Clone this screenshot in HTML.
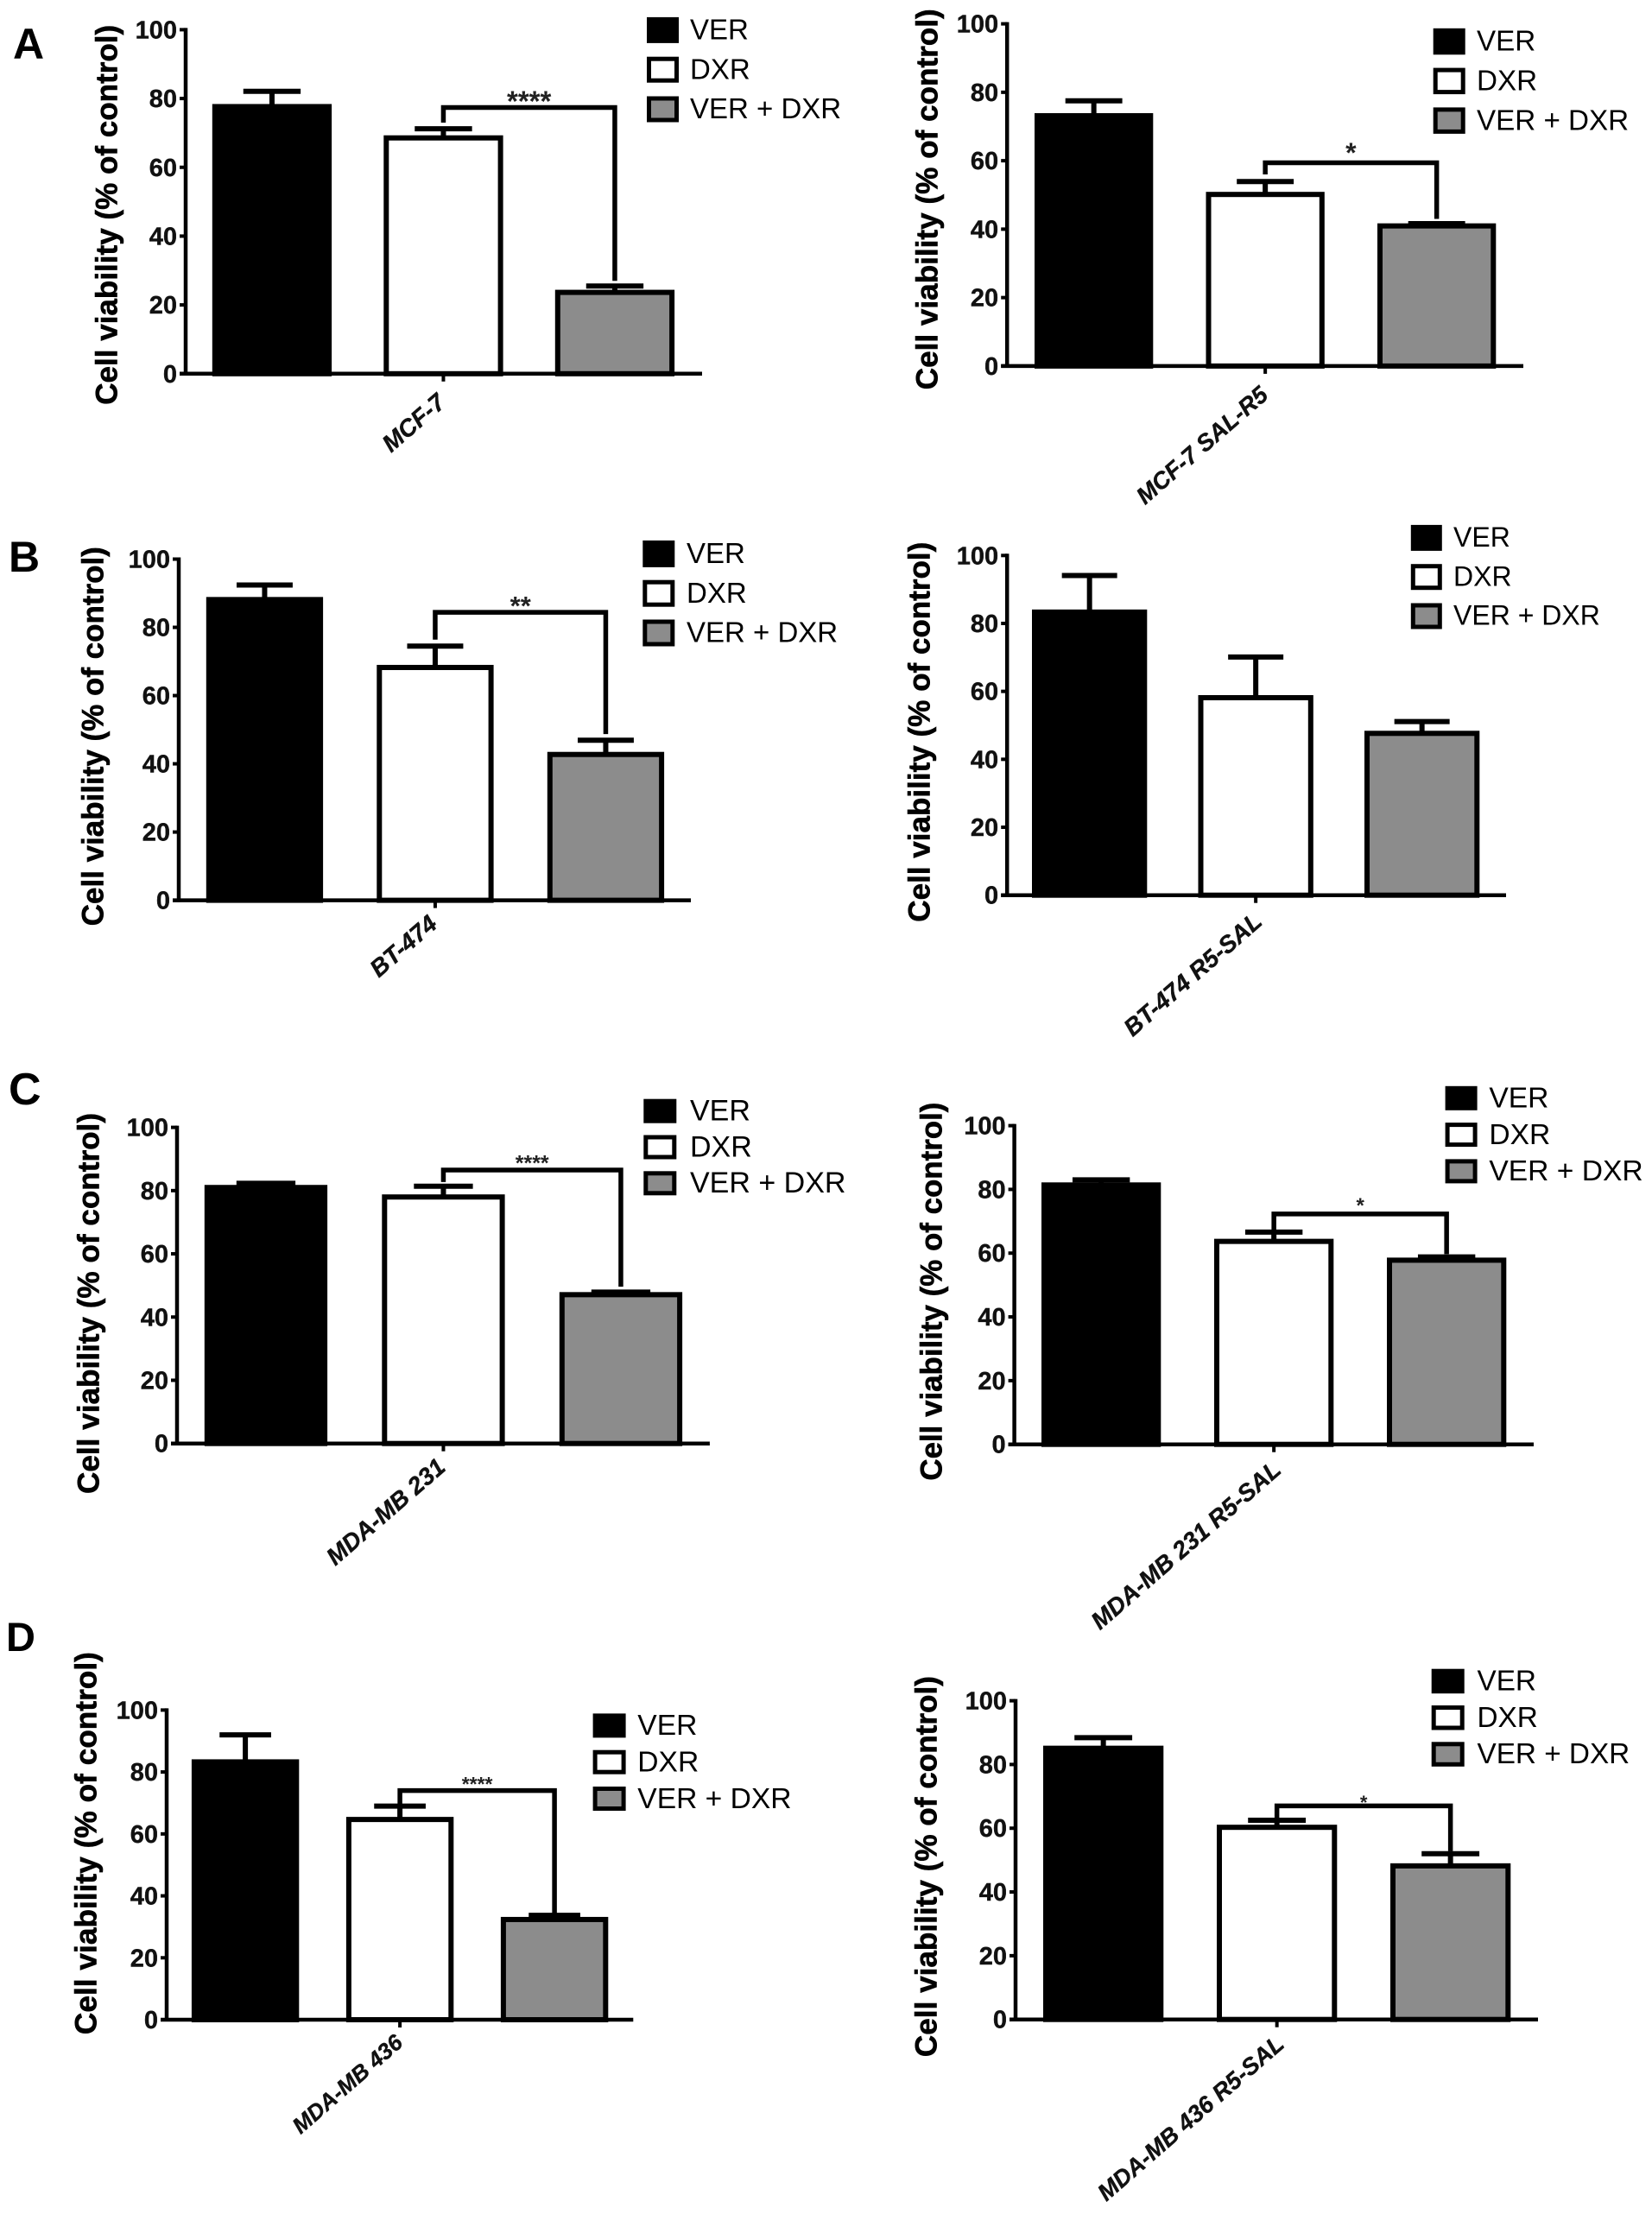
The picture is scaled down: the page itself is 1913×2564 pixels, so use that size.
<!DOCTYPE html>
<html lang="en">
<head>
<meta charset="utf-8">
<title>Cell viability bar charts</title>
<style>
html,body{margin:0;padding:0;background:#fff;}
svg{display:block;font-family:"Liberation Sans",Arial,sans-serif;}
</style>
</head>
<body>
<svg id="figure" xmlns="http://www.w3.org/2000/svg" width="1913" height="2564" viewBox="0 0 1913 2564">
<rect x="0" y="0" width="1913" height="2564" fill="#ffffff"/>
</svg>
<script>
// ---------- chart data ----------
const seriesNames = ["VER", "DXR", "VER + DXR"];
const yTickLabels = [0, 20, 40, 60, 80, 100];
const yAxisTitle = "Cell viability (% of control)";
const categories = ["MCF-7", "MCF-7 SAL-R5", "BT-474", "BT-474 R5-SAL", "MDA-MB 231", "MDA-MB 231 R5-SAL", "MDA-MB 436", "MDA-MB 436 R5-SAL"];
const barMeans = [
  [78.4, 69.3, 24.4],
  [73.9, 50.9, 41.7],
  [88.9, 69.0, 43.5],
  [84.1, 58.9, 48.4],
  [81.8, 78.8, 47.9],
  [82.2, 64.5, 58.6],
  [84.1, 65.5, 33.2],
  [85.9, 61.1, 49.0]
];
const barErrorTops = [
  [82.1, 71.2, 25.5],
  [77.5, 53.9, 41.6],
  [92.4, 74.5, 46.9],
  [94.1, 70.1, 51.1],
  [82.3, 81.4, 47.9],
  [83.0, 66.6, 58.8],
  [92.0, 69.0, 33.7],
  [88.4, 62.5, 52.0]
];
const bracketLevels = [77.4, 59.4, 84.4, null, 86.5, 72.3, 74.0, 67.0];
const bracketLeftFeet = [73.0, 56.0, 76.4, null, 82.7, 66.5, 69.7, 62.8];
const bracketRightFeet = [27.0, 43.0, 48.7, null, 49.6, 59.7, 34.0, 52.8];
const significanceLabels = ["****", "*", "**", "", "****", "*", "****", "*"];
const panelLetters = ["A", "B", "C", "D"];

// ---------- page layout (pixels, independent of the data) ----------
const panelLayouts = [
  {axisX:215,y100:34.4,y0:432.8,xEnd:813,bar0:245.8,step:198.5,barW:138.3,titleX:135.3,titleLen:440,titleCy:248.8,lgX:749,lgY:19.9,lgStep:45.8,lgW:37,lgH:30,lgTx:799,lgFs:33,xlDx:4,xlDy:36,xlFs:28,starFs:33,starDy:15},
  {axisX:1166.2,y100:27.6,y0:423.9,xEnd:1764,bar0:1198,step:198.5,barW:137.3,titleX:1085.6,titleLen:441,titleCy:230.8,lgX:1659.7,lgY:32.8,lgStep:45.8,lgW:37,lgH:30.5,lgTx:1710,lgFs:33.2,xlDx:5,xlDy:36,xlFs:27.5,starFs:32,starDy:19},
  {axisX:207,y100:647.5,y0:1042.6,xEnd:800,bar0:238.8,step:197.5,barW:135.3,titleX:119.4,titleLen:439,titleCy:852.7,lgX:744.3,lgY:625.9,lgStep:45.8,lgW:37,lgH:31,lgTx:795,lgFs:33,xlDx:4,xlDy:30,xlFs:28,starFs:31,starDy:15},
  {axisX:1166.2,y100:643.3,y0:1036.7,xEnd:1744,bar0:1195,step:192.5,barW:133.3,titleX:1076.6,titleLen:440,titleCy:847.7,lgX:1633.8,lgY:607.9,lgStep:45.3,lgW:36,lgH:30,lgTx:1683,lgFs:32,xlDx:9,xlDy:33,xlFs:28,starFs:30,starDy:15},
  {axisX:205,y100:1305.6,y0:1671.7,xEnd:821.9,bar0:236.8,step:205.5,barW:142.3,titleX:114.4,titleLen:441,titleCy:1509.5,lgX:745.3,lgY:1272.7,lgStep:41.8,lgW:38,lgH:28,lgTx:799,lgFs:34,xlDx:4,xlDy:30,xlFs:28,starFs:25,starDy:14},
  {axisX:1174.6,y100:1303.6,y0:1672.7,xEnd:1776,bar0:1206,step:200,barW:138.3,titleX:1090.5,titleLen:438,titleCy:1495.6,lgX:1673.6,lgY:1257.8,lgStep:42.3,lgW:37,lgH:28,lgTx:1724.4,lgFs:33.6,xlDx:10,xlDy:32,xlFs:28,starFs:24,starDy:16},
  {axisX:193,y100:1980.4,y0:2339,xEnd:733.3,bar0:221.9,step:179,barW:124.4,titleX:111.4,titleLen:443,titleCy:2134.6,lgX:686.6,lgY:1984.4,lgStep:42.3,lgW:38,lgH:28,lgTx:738.3,lgFs:33.6,xlDx:5,xlDy:29,xlFs:26,starFs:23,starDy:13},
  {axisX:1176,y100:1969.6,y0:2338.7,xEnd:1781,bar0:1208,step:201,barW:139.3,titleX:1084.6,titleLen:441,titleCy:2161.6,lgX:1657.7,lgY:1932.7,lgStep:42.3,lgW:38,lgH:28.5,lgTx:1710.5,lgFs:33.3,xlDx:10,xlDy:31,xlFs:27.5,starFs:22,starDy:9}
];
const letterLayouts = [
  {x:15,y:68,fs:50},
  {x:10,y:662,fs:50},
  {x:10,y:1279,fs:52},
  {x:7,y:1912,fs:47}
];
const seriesFills = ["#000000", "#ffffff", "#8c8c8c"];
const seriesKeys = ["ver", "dxr", "ver-dxr"];
const BAR_STROKE = 6, AXIS_STROKE = 4.5, TICK_LEN = 7, X_LABEL_ANGLE = -41;

// ---------- axis functions ----------
function yScale(layout, value) {
  return layout.y0 - (value / 100) * (layout.y0 - layout.y100);
}
function barLeft(layout, index) {
  return layout.bar0 + index * layout.step;
}
function barCenter(layout, index) {
  return barLeft(layout, index) + layout.barW / 2;
}

// ---------- drawing ----------
const NS = "http://www.w3.org/2000/svg";
const figure = document.getElementById("figure");

function make(tag, parent, props) {
  const node = document.createElementNS(NS, tag);
  for (const key in props) node.setAttribute(key, props[key]);
  parent.appendChild(node);
  return node;
}
function drawLine(parent, x1, y1, x2, y2, width) {
  return make("line", parent, {x1: x1, y1: y1, x2: x2, y2: y2, stroke: "#000000", "stroke-width": width});
}

panelLetters.forEach(function (letter, i) {
  const pos = letterLayouts[i];
  const el = make("text", figure, {x: pos.x, y: pos.y, "font-size": pos.fs, "font-weight": "bold", fill: "#000"});
  
  
  el.textContent = letter;
});

categories.forEach(function (category, p) {
  const layout = panelLayouts[p];
  const slug = category.toLowerCase().replace(/\s+/g, "-");

  const group = make("g", figure, {});
  
  

  // y-axis title
  const title = make("text", group, {
    transform: "translate(" + layout.titleX + "," + layout.titleCy + ") rotate(-90)",
    "text-anchor": "middle", "font-size": 35, "font-weight": "bold", fill: "#000",
    stroke: "#000", "stroke-width": 0.6,
    textLength: layout.titleLen, lengthAdjust: "spacingAndGlyphs"
  });
  
  
  title.textContent = yAxisTitle;

  // y ticks and labels
  yTickLabels.forEach(function (tick) {
    const ty = yScale(layout, tick);
    const tickMark = drawLine(group, layout.axisX - TICK_LEN, ty, layout.axisX, ty, 4);
    
    
    const label = make("text", group, {
      x: layout.axisX - TICK_LEN - 3, y: ty + 10, "text-anchor": "end",
      "font-size": 29, "font-weight": "bold", fill: "#111", stroke: "#111", "stroke-width": 0.4
    });
    
    
    label.textContent = tick;
  });

  // bars and error bars
  seriesNames.forEach(function (name, s) {
    const mean = barMeans[p][s];
    const errTop = barErrorTops[p][s];
    const cx = barCenter(layout, s);
    const top = yScale(layout, mean);
    const errY = yScale(layout, errTop);
    const capW = layout.barW * 0.48;

    const stem = drawLine(group, cx, errY, cx, top + 3, 6);
    
    
    const cap = drawLine(group, cx - capW / 2, errY, cx + capW / 2, errY, 6);
    
    

    const bar = make("rect", group, {
      x: barLeft(layout, s) + BAR_STROKE / 2,
      y: top + BAR_STROKE / 2,
      width: layout.barW - BAR_STROKE,
      height: Math.max(0, layout.y0 - top - BAR_STROKE / 2),
      fill: seriesFills[s], stroke: "#000000", "stroke-width": BAR_STROKE
    });
    
    
  });

  // axes
  const yAxis = drawLine(group, layout.axisX, layout.y100 - 2, layout.axisX, layout.y0 + 2, AXIS_STROKE);
  
  
  const xAxis = drawLine(group, layout.axisX - TICK_LEN, layout.y0, layout.xEnd, layout.y0, AXIS_STROKE);
  
  
  const tickX = barCenter(layout, 1);
  const xTick = drawLine(group, tickX, layout.y0, tickX, layout.y0 + 9, 4);
  
  

  // category label
  const ax = tickX + layout.xlDx;
  const ay = layout.y0 + layout.xlDy;
  const xLabel = make("text", group, {
    transform: "translate(" + ax + "," + ay + ") rotate(" + X_LABEL_ANGLE + ")",
    "text-anchor": "end", "font-size": layout.xlFs, "font-weight": "bold", "font-style": "italic",
    fill: "#111", stroke: "#111", "stroke-width": 0.4
  });
  
  
  xLabel.textContent = category;

  // significance bracket
  if (bracketLevels[p] !== null) {
    const bx1 = barCenter(layout, 1);
    const bx2 = barCenter(layout, 2);
    const by = yScale(layout, bracketLevels[p]);
    const bracket = make("polyline", group, {
      points: bx1 + "," + yScale(layout, bracketLeftFeet[p]) + " " + bx1 + "," + by + " " + bx2 + "," + by + " " + bx2 + "," + yScale(layout, bracketRightFeet[p]),
      fill: "none", stroke: "#000000", "stroke-width": 5.5
    });
    
    
    const stars = make("text", group, {
      x: (bx1 + bx2) / 2, y: by - layout.starDy + 0.58 * layout.starFs,
      "text-anchor": "middle", "font-size": layout.starFs, "font-weight": "bold", fill: "#222"
    });
    
    
    stars.textContent = significanceLabels[p];
  }

  // legend
  seriesNames.forEach(function (name, s) {
    const rowY = layout.lgY + s * layout.lgStep;
    const swatch = make("rect", group, {
      x: layout.lgX + 2.5, y: rowY + 2.5, width: layout.lgW - 5, height: layout.lgH - 5,
      fill: seriesFills[s], stroke: "#000000", "stroke-width": 5
    });
    
    
    const legendText = make("text", group, {
      x: layout.lgTx, y: rowY + layout.lgH / 2 + layout.lgFs * 0.32,
      "font-size": layout.lgFs, fill: "#000"
    });
    
    
    legendText.textContent = name;
  });
});
</script>
</body>
</html>
